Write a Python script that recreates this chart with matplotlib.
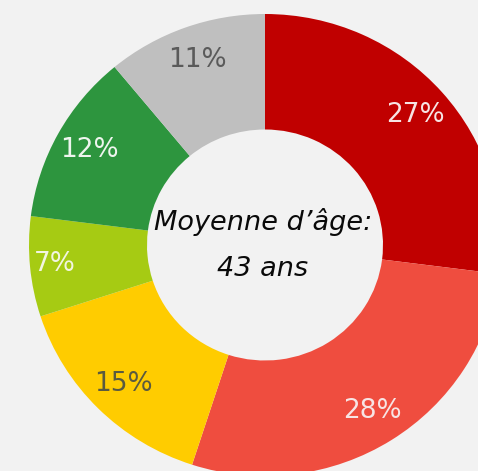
import matplotlib
matplotlib.use("Agg")
import matplotlib.pyplot as plt

# Age distribution shares (%), clockwise from the top
shares = [27, 28, 15, 7, 12, 11]
colors = ['#C00000', '#EF4D3F', '#FFCC00', '#A6CB13', '#2D953E', '#BFBFBF']
label_colors = ['#F7E4E4', '#F7E4E4', '#5A5A40', '#F2F5E0', '#EEF5EE', '#5A5A5A']
center_text = "Moyenne d\u2019\u00e2ge:\n43 ans"

bg = '#F2F2F2'
fig = plt.figure(figsize=(4.78, 4.71), dpi=100, facecolor=bg)
ax = fig.add_axes([0, 0, 1, 1])
ax.set_facecolor(bg)

wedges, texts, pcts = ax.pie(
    shares, colors=colors, startangle=90, counterclock=False,
    radius=1.0, wedgeprops=dict(width=0.5, linewidth=0),
    autopct=lambda p: f'{p:.0f}%', pctdistance=0.85,
    textprops=dict(fontsize=19, family='DejaVu Sans'))

for t, c in zip(pcts, label_colors):
    t.set_color(c)

# the 7% label sits a bit further out
x, y = pcts[3].get_position()
pcts[3].set_position((x * 1.05, y * 1.05))

ax.text(-0.01, 0.0, center_text, ha='center', va='center', fontsize=19.5,
        style='italic', color='#0A0A0A', linespacing=1.95)

# donut is cropped on the right and bottom, slightly wider than tall
ax.set_aspect('auto')
ax.set_xlim(-265 / 236, (478 - 265) / 236)
ax.set_ylim(-(471 - 245) / 231, 245 / 231)
ax.axis('off')

fig.savefig('out.png', dpi=100, facecolor=bg)
